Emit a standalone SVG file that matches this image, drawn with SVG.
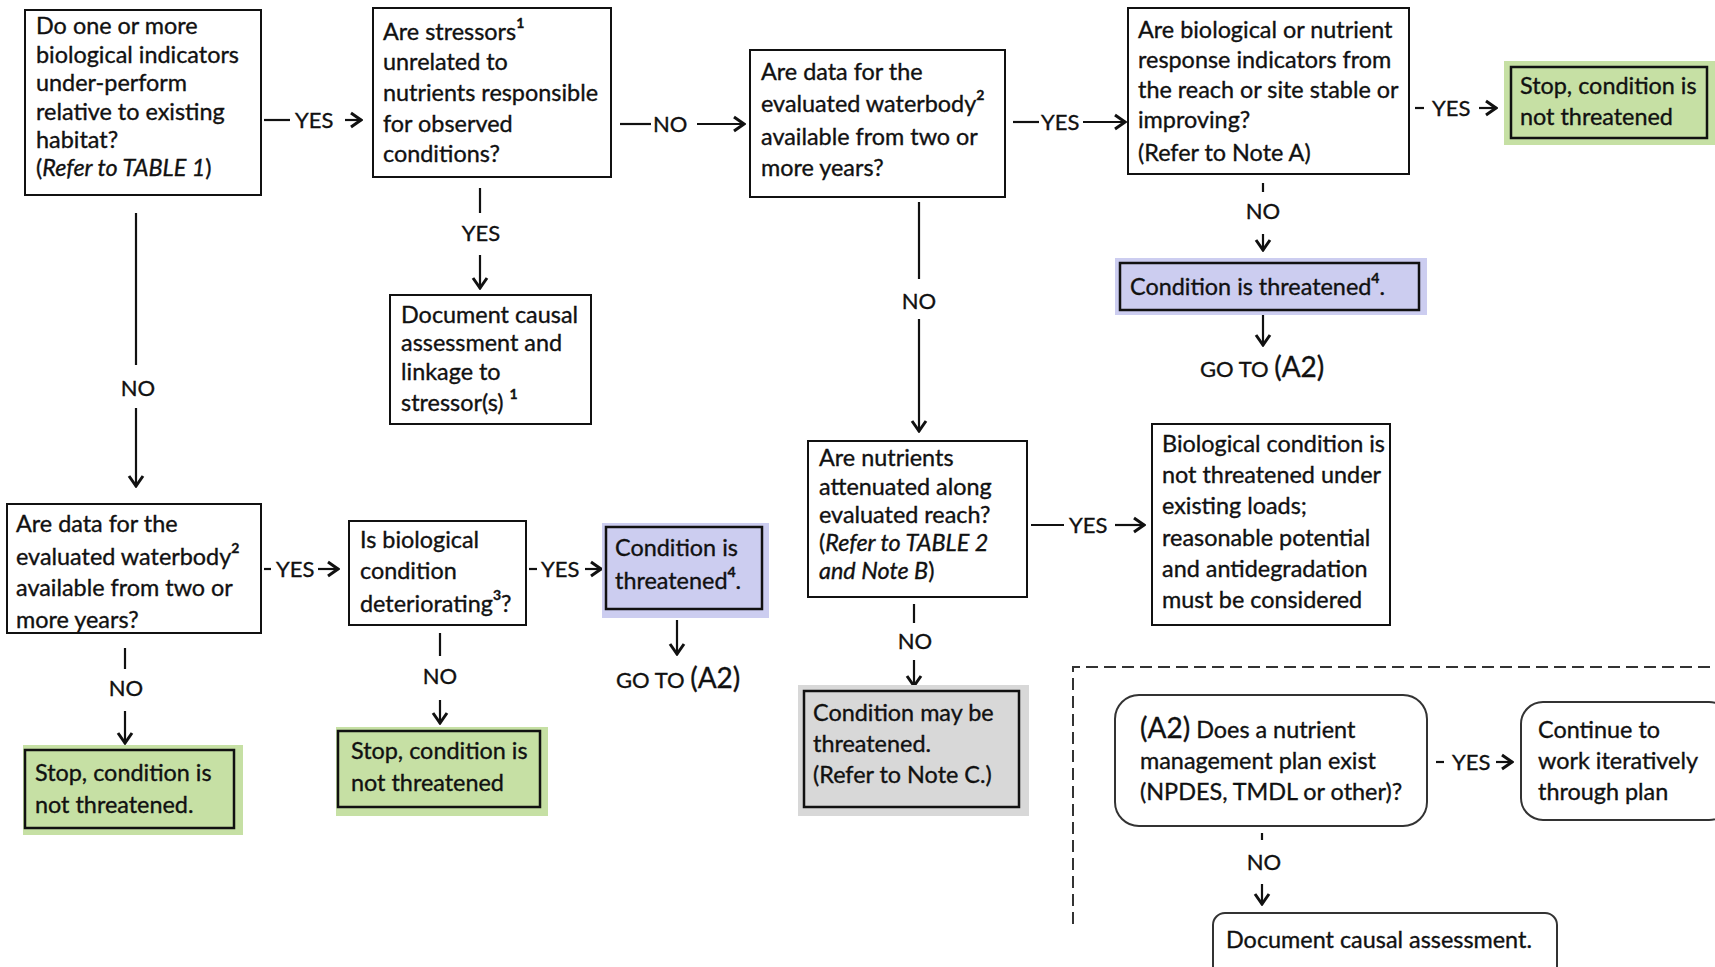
<svg xmlns="http://www.w3.org/2000/svg" width="1715" height="967" viewBox="0 0 1715 967">
  <style>
    text { font-family: Lato, "Open Sans", "Liberation Sans", sans-serif; font-size: 23.4px; fill: #111111; stroke: #111111; stroke-width: 0.35; }
    .box { fill: #ffffff; stroke: #111111; stroke-width: 2; }
    .inner { fill: none; stroke: #111111; stroke-width: 2.5; }
    .green { fill: #c6e0a4; }
    .purple { fill: #cccdf0; }
    .gray { fill: #d8d8d8; }
    .round { fill: #ffffff; stroke: #333333; stroke-width: 2; }
    .lbl { font-size: 22px; }
    .it { font-style: italic; }
    .sup { font-size: 14px; font-weight: bold; }
    .goto { font-size: 22px; }
    .a2 { font-size: 28px; }
    .edge { stroke: #111111; stroke-width: 2.2; fill: none; }
    .arr { stroke: #111111; stroke-width: 2.2; fill: none; marker-end: url(#head); }
    .dash { stroke: #333333; stroke-width: 2; fill: none; stroke-dasharray: 12 6; }
  </style>
  <defs>
    <marker id="head" viewBox="0 0 14 18" refX="13" refY="9" markerWidth="14" markerHeight="18" markerUnits="userSpaceOnUse" orient="auto">
      <path d="M2,2 L12,9 L2,16" fill="none" stroke="#111111" stroke-width="3"/>
    </marker>
  </defs>

  <rect width="1715" height="967" fill="#ffffff"/>

  <!-- connectors -->
  <g id="connectors">
    <!-- box1 -> stressors: YES -->
    <line class="edge" x1="264" y1="120" x2="290" y2="120"/>
    <text class="lbl" x="295" y="128">YES</text>
    <line class="arr" x1="345" y1="120" x2="362" y2="120"/>
    <!-- stressors -> data (top): NO -->
    <line class="edge" x1="620" y1="124" x2="651" y2="124"/>
    <text class="lbl" x="653" y="132">NO</text>
    <line class="arr" x1="697" y1="124" x2="745" y2="124"/>
    <!-- data (top) -> indicators: YES -->
    <line class="edge" x1="1013" y1="122" x2="1039" y2="122"/>
    <text class="lbl" x="1041" y="130">YES</text>
    <line class="arr" x1="1083" y1="122" x2="1126" y2="122"/>
    <!-- indicators -> stop: YES -->
    <line class="edge" x1="1415" y1="108" x2="1424" y2="108"/>
    <text class="lbl" x="1432" y="116">YES</text>
    <line class="arr" x1="1479" y1="108" x2="1497" y2="108"/>
    <!-- indicators -> threatened: NO -->
    <line class="edge" x1="1263" y1="183" x2="1263" y2="192"/>
    <text class="lbl" x="1263" y="219" text-anchor="middle">NO</text>
    <line class="arr" x1="1263" y1="234" x2="1263" y2="251"/>
    <!-- threatened -> GO TO -->
    <line class="arr" x1="1263" y1="312" x2="1263" y2="346"/>
    <!-- stressors -> document: YES -->
    <line class="edge" x1="480" y1="188" x2="480" y2="213"/>
    <text class="lbl" x="481" y="241" text-anchor="middle">YES</text>
    <line class="arr" x1="480" y1="255" x2="480" y2="289"/>
    <!-- box1 -> data (lower): NO -->
    <line class="edge" x1="136" y1="213" x2="136" y2="365"/>
    <text class="lbl" x="138" y="396" text-anchor="middle">NO</text>
    <line class="arr" x1="136" y1="408" x2="136" y2="487"/>
    <!-- data (top) -> attenuated: NO -->
    <line class="edge" x1="919" y1="202" x2="919" y2="279"/>
    <text class="lbl" x="919" y="309" text-anchor="middle">NO</text>
    <line class="arr" x1="919" y1="319" x2="919" y2="432"/>
    <!-- data (lower) -> deteriorating: YES -->
    <line class="edge" x1="264" y1="569" x2="271" y2="569"/>
    <text class="lbl" x="276" y="577">YES</text>
    <line class="arr" x1="318" y1="569" x2="339" y2="569"/>
    <!-- deteriorating -> threatened: YES -->
    <line class="edge" x1="529" y1="569" x2="537" y2="569"/>
    <text class="lbl" x="541" y="577">YES</text>
    <line class="arr" x1="585" y1="569" x2="602" y2="569"/>
    <!-- data (lower) -> stop: NO -->
    <line class="edge" x1="125" y1="648" x2="125" y2="669"/>
    <text class="lbl" x="126" y="696" text-anchor="middle">NO</text>
    <line class="arr" x1="125" y1="711" x2="125" y2="744"/>
    <!-- deteriorating -> stop: NO -->
    <line class="edge" x1="440" y1="633" x2="440" y2="656"/>
    <text class="lbl" x="440" y="684" text-anchor="middle">NO</text>
    <line class="arr" x1="440" y1="700" x2="440" y2="724"/>
    <!-- threatened (lower) -> GO TO -->
    <line class="arr" x1="677" y1="620" x2="677" y2="655"/>
    <!-- attenuated -> not threatened: YES -->
    <line class="edge" x1="1031" y1="525" x2="1064" y2="525"/>
    <text class="lbl" x="1069" y="533">YES</text>
    <line class="arr" x1="1115" y1="525" x2="1145" y2="525"/>
    <!-- attenuated -> may be threatened: NO -->
    <line class="edge" x1="914" y1="604" x2="914" y2="623"/>
    <text class="lbl" x="915" y="649" text-anchor="middle">NO</text>
    <line class="arr" x1="914" y1="660" x2="914" y2="687"/>
    <!-- A2 -> continue: YES -->
    <line class="edge" x1="1436" y1="762" x2="1444" y2="762"/>
    <text class="lbl" x="1452" y="770">YES</text>
    <line class="arr" x1="1496" y1="762" x2="1513" y2="762"/>
    <!-- A2 -> document: NO -->
    <line class="edge" x1="1262" y1="833" x2="1262" y2="840"/>
    <text class="lbl" x="1264" y="870" text-anchor="middle">NO</text>
    <line class="arr" x1="1262" y1="884" x2="1262" y2="905"/>
    <!-- dashed frame around A2 section -->
    <path class="dash" d="M1073,924 L1073,667 L1715,667"/>
  </g>

  <!-- question: biological indicators -->
  <g id="q-underperform">
    <rect class="box" x="25" y="10" width="236" height="185"/>
    <text x="36" y="34">Do one or more</text>
    <text x="36" y="63">biological indicators</text>
    <text x="36" y="91">under-perform</text>
    <text x="36" y="120">relative to existing</text>
    <text x="36" y="148">habitat?</text>
    <text x="36" y="176">(<tspan class="it">Refer to TABLE 1</tspan>)</text>
  </g>

  <g id="q-stressors">
    <rect class="box" x="373" y="8" width="238" height="169"/>
    <text x="383" y="40">Are stressors<tspan class="sup" dy="-12">1</tspan></text>
    <text x="383" y="70">unrelated to</text>
    <text x="383" y="101">nutrients responsible</text>
    <text x="383" y="132">for observed</text>
    <text x="383" y="162">conditions?</text>
  </g>

  <g id="q-data-top">
    <rect class="box" x="750" y="50" width="255" height="147"/>
    <text x="761" y="80">Are data for the</text>
    <text x="761" y="112">evaluated waterbody<tspan class="sup" dy="-12">2</tspan></text>
    <text x="761" y="145">available from two or</text>
    <text x="761" y="176">more years?</text>
  </g>

  <g id="q-indicators">
    <rect class="box" x="1128" y="8" width="281" height="166"/>
    <text x="1138" y="38">Are biological or nutrient</text>
    <text x="1138" y="68">response indicators from</text>
    <text x="1138" y="98">the reach or site stable or</text>
    <text x="1138" y="128">improving?</text>
    <text x="1138" y="161">(Refer to Note A)</text>
  </g>

  <g id="stop-top">
    <rect class="green" x="1504" y="61" width="211" height="84"/>
    <rect class="inner" x="1511" y="67" width="196" height="71"/>
    <text x="1520" y="94">Stop, condition is</text>
    <text x="1520" y="125">not threatened</text>
  </g>

  <g id="threatened-top">
    <rect class="purple" x="1115" y="258" width="312" height="57"/>
    <rect class="inner" x="1120" y="263" width="299" height="47"/>
    <text x="1130" y="295">Condition is threatened<tspan class="sup" dy="-12">4</tspan><tspan dy="12">.</tspan></text>
  </g>

  <g id="goto-top">
    <text x="1200" y="377"><tspan class="goto">GO TO </tspan><tspan class="a2">(A2)</tspan></text>
  </g>

  <g id="document-stressor">
    <rect class="box" x="390" y="295" width="201" height="129"/>
    <text x="401" y="323">Document causal</text>
    <text x="401" y="351">assessment and</text>
    <text x="401" y="380">linkage to</text>
    <text x="401" y="411">stressor(s) <tspan class="sup" dy="-12">1</tspan></text>
  </g>

  <g id="q-attenuated">
    <rect class="box" x="808" y="441" width="219" height="156"/>
    <text x="819" y="466">Are nutrients</text>
    <text x="819" y="495">attenuated along</text>
    <text x="819" y="523">evaluated reach?</text>
    <text x="819" y="551">(<tspan class="it">Refer to TABLE 2</tspan></text>
    <text x="819" y="579"><tspan class="it">and Note B</tspan>)</text>
  </g>

  <g id="not-threatened-loads">
    <rect class="box" x="1152" y="424" width="238" height="201"/>
    <text x="1162" y="452">Biological condition is</text>
    <text x="1162" y="483">not threatened under</text>
    <text x="1162" y="514">existing loads;</text>
    <text x="1162" y="546">reasonable potential</text>
    <text x="1162" y="577">and antidegradation</text>
    <text x="1162" y="608">must be considered</text>
  </g>

  <g id="q-data-lower">
    <rect class="box" x="7" y="504" width="254" height="129"/>
    <text x="16" y="532">Are data for the</text>
    <text x="16" y="565">evaluated waterbody<tspan class="sup" dy="-12">2</tspan></text>
    <text x="16" y="596">available from two or</text>
    <text x="16" y="628">more years?</text>
  </g>

  <g id="q-deteriorating">
    <rect class="box" x="349" y="521" width="177" height="104"/>
    <text x="360" y="548">Is biological</text>
    <text x="360" y="579">condition</text>
    <text x="360" y="612">deteriorating<tspan class="sup" dy="-12">3</tspan><tspan dy="12">?</tspan></text>
  </g>

  <g id="threatened-lower">
    <rect class="purple" x="602" y="523" width="167" height="95"/>
    <rect class="inner" x="606" y="527" width="156" height="82"/>
    <text x="615" y="556">Condition is</text>
    <text x="615" y="589">threatened<tspan class="sup" dy="-12">4</tspan><tspan dy="12">.</tspan></text>
  </g>

  <g id="goto-lower">
    <text x="616" y="688"><tspan class="goto">GO TO </tspan><tspan class="a2">(A2)</tspan></text>
  </g>

  <g id="stop-lower-left">
    <rect class="green" x="23" y="745" width="220" height="90"/>
    <rect class="inner" x="25" y="750" width="209" height="78"/>
    <text x="35" y="781">Stop, condition is</text>
    <text x="35" y="813">not threatened.</text>
  </g>

  <g id="stop-lower-mid">
    <rect class="green" x="336" y="727" width="212" height="89"/>
    <rect class="inner" x="338" y="731" width="202" height="76"/>
    <text x="351" y="759">Stop, condition is</text>
    <text x="351" y="791">not threatened</text>
  </g>

  <g id="may-be-threatened">
    <rect class="gray" x="798" y="685" width="231" height="131"/>
    <rect class="inner" x="804" y="691" width="215" height="116"/>
    <text x="813" y="721">Condition may be</text>
    <text x="813" y="752">threatened.</text>
    <text x="813" y="783">(Refer to Note C.)</text>
  </g>

  <g id="q-a2-plan">
    <rect class="round" x="1115" y="695" width="312" height="131" rx="24" ry="24"/>
    <text x="1140" y="738"><tspan class="a2">(A2)</tspan>  Does a nutrient</text>
    <text x="1140" y="769">management plan exist</text>
    <text x="1140" y="800">(NPDES, TMDL or other)?</text>
  </g>

  <g id="continue-plan">
    <rect class="round" x="1521" y="702" width="210" height="118" rx="22" ry="22"/>
    <text x="1538" y="738">Continue to</text>
    <text x="1538" y="769">work iteratively</text>
    <text x="1538" y="800">through plan</text>
  </g>

  <g id="document-causal">
    <rect class="round" x="1213" y="913" width="344" height="70" rx="12" ry="12"/>
    <text x="1226" y="948">Document causal assessment.</text>
  </g>
</svg>
